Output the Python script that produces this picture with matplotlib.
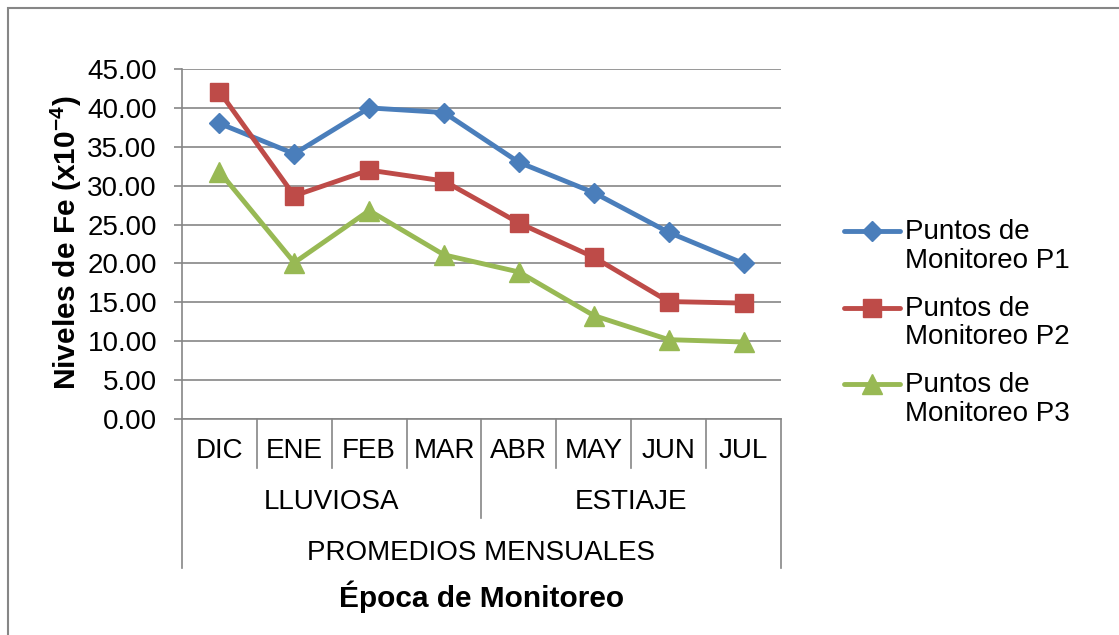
import matplotlib
matplotlib.use("Agg")
import matplotlib.pyplot as plt
from matplotlib.lines import Line2D
from matplotlib.patches import Rectangle
import matplotlib.transforms as mtransforms

plt.rcParams["font.family"] = ["Liberation Sans", "DejaVu Sans"]
plt.rcParams["mathtext.fontset"] = "custom"
plt.rcParams["mathtext.rm"] = "Liberation Sans"
plt.rcParams["mathtext.bf"] = "Liberation Sans:bold"

# datos
meses = ["DIC", "ENE", "FEB", "MAR", "ABR", "MAY", "JUN", "JUL"]
epocas = ["LLUVIOSA", "ESTIAJE"]
meses_por_epoca = [4, 4]
grupo = "PROMEDIOS MENSUALES"

p1 = [38.0, 34.1, 40.0, 39.4, 33.0, 29.1, 24.0, 20.0]
p2 = [42.1, 28.7, 32.0, 30.6, 25.2, 20.8, 15.1, 14.9]
p3 = [31.8, 20.1, 26.8, 21.1, 18.9, 13.3, 10.2, 9.9]

series = [
    ("Puntos de\nMonitoreo P1", p1, "#4A7EBB", "D", 10),
    ("Puntos de\nMonitoreo P2", p2, "#BE4B48", "s", 12.5),
    ("Puntos de\nMonitoreo P3", p3, "#98B954", "^", 14),
]

W, H = 1119, 635
fig = plt.figure(figsize=(W / 100, H / 100), dpi=100)
fig.patch.set_facecolor("white")

# marco exterior del grafico
fig.add_artist(Rectangle((8 / W, -0.2), 1.2, 1 - 8 / H + 0.2, transform=fig.transFigure,
                         fill=False, edgecolor="#868686", linewidth=1.5))

ax = fig.add_axes([182 / W, 1 - 419 / H, 599 / W, 350 / H])
gris = "#868686"
fs = 20
fs_tit = 21.5

x = list(range(len(meses)))
for label, vals, color, mk, ms in series:
    ax.plot(x, vals, color=color, linewidth=3.5, marker=mk, markersize=ms,
            markerfacecolor=color, markeredgecolor=color, zorder=3, clip_on=False)

ax.set_xlim(-0.5, len(meses) - 0.5)
ax.set_ylim(0, 45)
ax.set_yticks([i * 5 for i in range(10)])
ax.set_yticklabels([f"{i * 5:.2f}" for i in range(10)], fontsize=fs)
ax.yaxis.grid(True, color=gris, linewidth=1.2)
ax.set_axisbelow(True)
ax.tick_params(axis="y", direction="out", length=6, width=1.2, color=gris, pad=12)
ax.set_xticks([])
for s in ["top", "right"]:
    ax.spines[s].set_visible(False)
for s in ["left", "bottom"]:
    ax.spines[s].set_color(gris)
    ax.spines[s].set_linewidth(1.2)

# eje de categorias de varios niveles
trans = mtransforms.blended_transform_factory(ax.transData, ax.transAxes)
px = 1 / 350
for i, m in enumerate(meses):
    ax.text(i, -32 * px, m, transform=trans, ha="center", va="center", fontsize=fs)

bordes = [i - 0.5 for i in range(len(meses) + 1)]
cortes_epoca = [-0.5]
for n in meses_por_epoca:
    cortes_epoca.append(cortes_epoca[-1] + n)
for b in bordes:
    if b in (bordes[0], bordes[-1]):
        largo = 149
    elif b in cortes_epoca:
        largo = 99
    else:
        largo = 49
    ax.add_line(Line2D([b, b], [0, -largo * px], transform=trans, color=gris,
                       linewidth=1.2, clip_on=False))

for k, e in enumerate(epocas):
    centro = (cortes_epoca[k] + cortes_epoca[k + 1]) / 2
    ax.text(centro, -83 * px, e, transform=trans, ha="center", va="center", fontsize=fs)

ax.text(0.5, -134 * px, grupo, transform=ax.transAxes, ha="center", va="center", fontsize=fs)
ax.text(0.5, -178 * px, "Época de Monitoreo", transform=ax.transAxes, ha="center",
        va="center", fontsize=fs_tit, fontweight="bold")

fig.text(66 / W, 1 - 243 / H, r"Niveles de Fe (x10$^{\mathbf{-4}}$)", rotation=90,
         ha="center", va="center", fontsize=fs_tit, fontweight="bold")

# leyenda
for k, (label, vals, color, mk, ms) in enumerate(series):
    yl = 1 - (231 + 76.5 * k) / H
    fig.add_artist(Line2D([844 / W, 900 / W], [yl, yl], transform=fig.transFigure,
                          color=color, linewidth=3.5, solid_capstyle="round"))
    fig.add_artist(Line2D([872 / W], [yl], transform=fig.transFigure, color=color,
                          marker=mk, markersize=ms, markeredgecolor=color))
    fig.text(905 / W, 1 - (231 + 76.5 * k + 15.5) / H, label, ha="left", va="center",
             fontsize=fs, linespacing=1.15)

fig.savefig("out.png", dpi=100)
